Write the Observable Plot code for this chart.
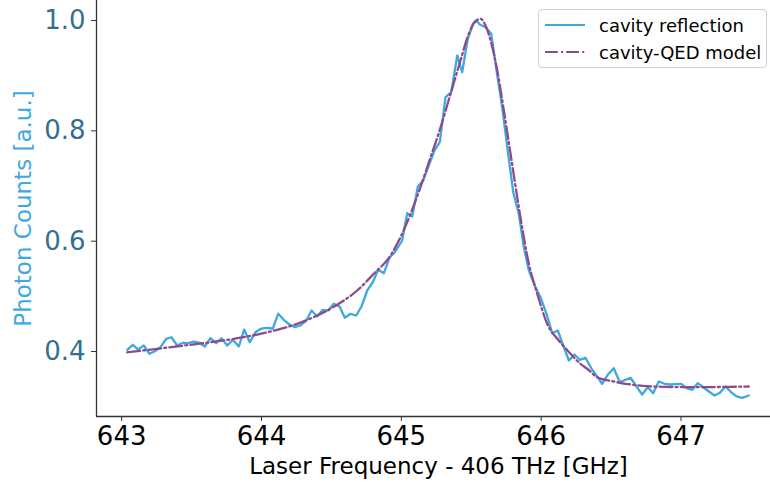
<!DOCTYPE html>
<html>
<head>
<meta charset="utf-8">
<script src="https://cdn.jsdelivr.net/npm/d3@7"></script>
<script src="https://cdn.jsdelivr.net/npm/@observablehq/plot@0.6"></script>
<style>
  html, body { margin: 0; padding: 0; background: white; overflow: hidden; }
  #wrap { position: relative; width: 770px; height: 488px; font-family: "DejaVu Sans", sans-serif; }
  #legend { position: absolute; left: 538px; top: 9px; width: 229px; height: 59px; box-sizing: border-box;
    border: 1px solid #d0d0d0; border-radius: 4px; background: rgba(255,255,255,0.85); font-size: 18px; color: #000; }
  .row { position: absolute; left: 0; display: flex; align-items: center; height: 24px; }
  .row svg { margin-left: 6px; margin-right: 14px; }
</style>
</head>
<body>
<div id="wrap"><div id="chart"></div>
<div id="legend">
  <div class="row" style="top:3px"><svg width="40" height="10"><line x1="0" y1="5" x2="40" y2="5" stroke="#3fa8e0" stroke-width="2"/></svg><span>cavity reflection</span></div>
  <div class="row" style="top:30px"><svg width="40" height="10"><line x1="0" y1="5" x2="40" y2="5" stroke="#8e4a8a" stroke-width="2" stroke-dasharray="12.8,3.2,2,3.2"/></svg><span>cavity-QED model</span></div>
</div>
</div>
<script>
// measured data (cavity reflection)
const measX = [643.040,643.080,643.118,643.158,643.199,643.237,643.278,643.318,643.356,643.397,643.437,643.476,643.516,643.557,643.594,643.635,643.676,643.714,643.755,643.795,643.838,643.876,643.916,643.957,643.995,644.029,644.081,644.119,644.159,644.200,644.238,644.279,644.320,644.358,644.398,644.438,644.477,644.517,644.558,644.596,644.636,644.677,644.715,644.756,644.796,644.834,644.875,644.915,644.953,645.006,645.042,645.078,645.118,645.156,645.196,645.237,645.275,645.316,645.357,645.400,645.435,645.475,645.514,645.537,645.561,645.602,645.643,645.681,645.721,645.761,645.800,645.840,645.876,645.912,645.959,645.995,646.038,646.079,646.119,646.158,646.198,646.238,646.276,646.317,646.365,646.401,646.436,646.476,646.519,646.562,646.600,646.639,646.682,646.722,646.763,646.801,646.841,646.882,646.925,646.963,647.001,647.039,647.080,647.120,647.159,647.199,647.240,647.278,647.318,647.359,647.397,647.438,647.485];
const measY = [0.4031,0.4122,0.4036,0.4109,0.3959,0.4006,0.4078,0.4230,0.4259,0.4109,0.4158,0.4151,0.4181,0.4158,0.4091,0.4241,0.4151,0.4241,0.4109,0.4212,0.4091,0.4399,0.4169,0.4350,0.4412,0.4430,0.4417,0.4684,0.4575,0.4490,0.4441,0.4472,0.4562,0.4743,0.4635,0.4756,0.4743,0.4865,0.4816,0.4611,0.4684,0.4653,0.4816,0.5106,0.5256,0.5481,0.5420,0.5699,0.5800,0.6012,0.6507,0.6447,0.6991,0.7100,0.7372,0.7644,0.7794,0.8610,0.8701,0.9366,0.9063,0.9668,0.9941,1.0000,0.9928,0.9879,0.9759,0.9094,0.8429,0.7644,0.6888,0.6496,0.5891,0.5469,0.5166,0.4985,0.4684,0.4332,0.4381,0.4109,0.3837,0.3946,0.3850,0.3886,0.3669,0.3542,0.3415,0.3578,0.3698,0.3444,0.3484,0.3524,0.3366,0.3221,0.3353,0.3244,0.3456,0.3415,0.3402,0.3408,0.3415,0.3335,0.3306,0.3426,0.3353,0.3275,0.3203,0.3252,0.3366,0.3262,0.3185,0.3161,0.3203];
// model curve (cavity-QED model)
const modelX = [643.040,643.254,643.492,643.730,643.969,644.112,644.255,644.398,644.541,644.684,644.803,644.923,644.994,645.066,645.137,645.209,645.281,645.352,645.423,645.482,645.530,645.566,645.602,645.638,645.686,645.733,645.781,645.840,645.912,645.972,646.043,646.126,646.210,646.281,646.329,646.401,646.520,646.639,646.758,646.877,647.116,647.354,647.485];
const modelY = [0.3985,0.4049,0.4122,0.4200,0.4308,0.4394,0.4502,0.4653,0.4847,0.5106,0.5409,0.5740,0.6072,0.6496,0.6979,0.7522,0.8066,0.8672,0.9275,0.9759,0.9988,1.0030,0.9910,0.9640,0.9094,0.8369,0.7584,0.6616,0.5590,0.5046,0.4502,0.4200,0.3959,0.3777,0.3687,0.3534,0.3456,0.3402,0.3371,0.3360,0.3353,0.3360,0.3366];
const xTicks = [643, 644, 645, 646, 647];
const yTicks = [0.4, 0.6, 0.8, 1.0];
const xLabel = "Laser Frequency - 406 THz [GHz]";
const yLabel = "Photon Counts [a.u.]";

const xDomain = [642.82, 647.64];
const yDomain = [0.2822, 1.0363];

const meas = measX.map((x, i) => ({x, y: measY[i]}));
const model = modelX.map((x, i) => ({x, y: modelY[i]}));

const chart = Plot.plot({
  width: 770, height: 488,
  marginLeft: 96, marginRight: 0, marginTop: 0, marginBottom: 72,
  style: {fontFamily: "DejaVu Sans, sans-serif", background: "white", color: "#000"},
  x: {domain: xDomain},
  y: {domain: yDomain},
  marks: [
    Plot.axisX({ticks: xTicks, tickFormat: d => String(d), tickSize: 5, tickPadding: 5, fontSize: 26, label: null, stroke: "#333", fill: "#000"}),
    Plot.axisY({ticks: yTicks, tickFormat: d3.format(".1f"), tickSize: 5, tickPadding: 6, fontSize: 26, label: null, stroke: "#333", fill: "#346f8f"}),
    Plot.ruleX([xDomain[0]], {stroke: "#333", strokeWidth: 1.3}),
    Plot.ruleY([yDomain[0]], {stroke: "#333", strokeWidth: 1.3}),
    Plot.line(meas, {x: "x", y: "y", stroke: "#3fa8e0", strokeWidth: 2.3}),
    Plot.line(model, {x: "x", y: "y", stroke: "#8e4a8a", strokeWidth: 2.3, strokeDasharray: "12.8,3.2,2,3.2", curve: "monotone-x"}),
    Plot.text([xLabel], {frameAnchor: "bottom", dy: 57, dx: 5, fontSize: 23, fill: "#000"}),
    Plot.text([yLabel], {frameAnchor: "left", dx: -73, textAnchor: "middle", rotate: -90, fontSize: 23, fill: "#3fa8e0"})
  ]
});
document.getElementById("chart").appendChild(chart);
</script>
</body>
</html>
